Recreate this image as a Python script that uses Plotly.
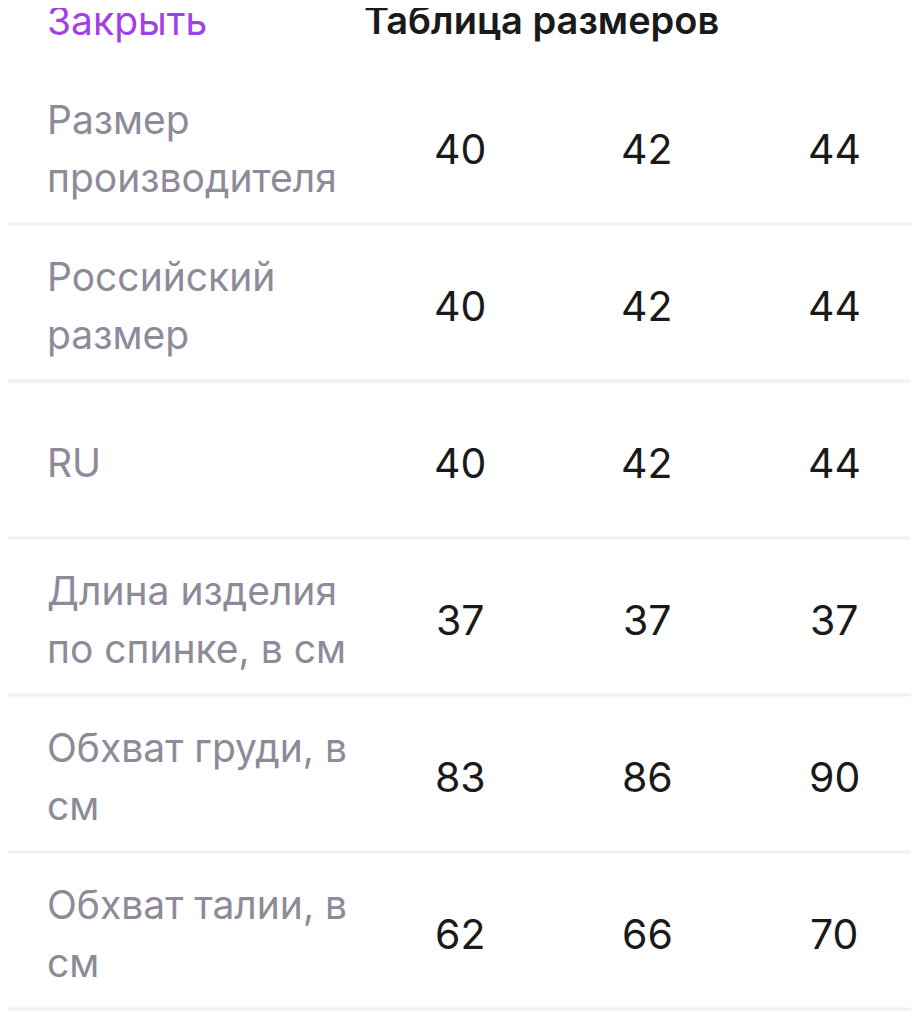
import plotly.graph_objects as go

row_labels = ["Размер<br>производителя", "Российский<br>размер", "RU",
              "Длина изделия<br>по спинке, в см", "Обхват груди, в<br>см", "Обхват талии, в<br>см"]
col_sizes = ["40", "42", "44"]
values = [
    [40, 42, 44],
    [40, 42, 44],
    [40, 42, 44],
    [37, 37, 37],
    [83, 86, 90],
    [62, 66, 70],
]

W, H = 919, 1028
OFF = 8  # page body margin compensation
row_top = 70
row_h = 157
col_x = [460, 647, 834]

fig = go.Figure()
fig.add_trace(go.Scatter(x=[0], y=[0], mode="markers", marker=dict(opacity=0), hoverinfo="skip", showlegend=False))

ann = []
ann.append(dict(x=45 - OFF, y=20 - OFF, text="Закрыть", xanchor="left", yanchor="middle", showarrow=False,
                font=dict(family="Inter", size=39, color="#a040e6")))
ann.append(dict(x=541 - OFF, y=20 - OFF, text="Таблица размеров", xanchor="center", yanchor="middle", showarrow=False,
                font=dict(family="Inter", size=38, color="#1a1a1a", weight=600)))
shapes = []
for i, (lab, vals) in enumerate(zip(row_labels, values)):
    cy = row_top + row_h * (i + 0.5)
    lines = lab.split("<br>")
    n = len(lines)
    for k, ln in enumerate(lines):
        ly = cy + (k - (n - 1) / 2) * 58
        ann.append(dict(x=45 - OFF, y=ly - OFF, text=ln, xanchor="left", yanchor="middle", showarrow=False,
                        font=dict(family="Inter", size=39, color="#8e8a99")))
    for x, v in zip(col_x, vals):
        ann.append(dict(x=x - OFF, y=cy - OFF, text=str(v), xanchor="center", yanchor="middle", showarrow=False,
                        font=dict(family="Inter", size=41, color="#1a1a1a")))
    sy = row_top + row_h * (i + 1) - 3 - OFF
    shapes.append(dict(type="line", x0=-OFF, x1=W, y0=sy, y1=sy, line=dict(color="#f0f0f2", width=3)))

fig.update_layout(width=W, height=H, margin=dict(l=0, r=0, t=0, b=0),
                  paper_bgcolor="white", plot_bgcolor="white",
                  xaxis=dict(range=[0, W], visible=False, fixedrange=True),
                  yaxis=dict(range=[H, 0], visible=False, fixedrange=True),
                  annotations=ann, shapes=shapes)
fig.write_html("out.html")
